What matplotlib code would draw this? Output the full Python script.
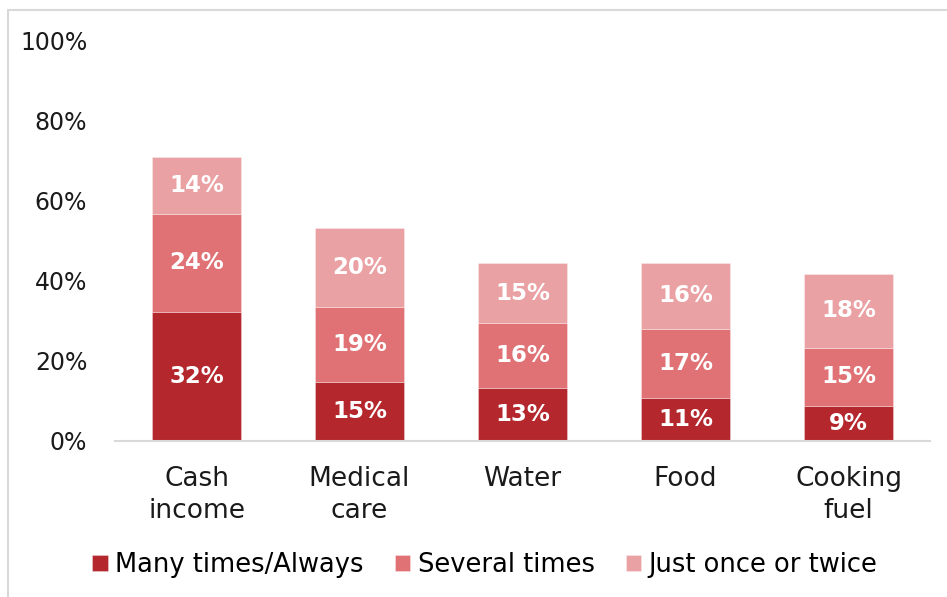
import matplotlib
matplotlib.use("Agg")
import matplotlib.pyplot as plt
from matplotlib.patches import Rectangle
import numpy as np

categories = ["Cash\nincome", "Medical\ncare", "Water", "Food", "Cooking\nfuel"]
many_times = [32.2, 14.6, 13.2, 10.6, 8.7]
several_times = [24.4, 18.7, 16.2, 17.4, 14.6]
once_twice = [14.3, 19.9, 15.0, 16.4, 18.3]
series_names = ["Many times/Always", "Several times", "Just once or twice"]
colors = ["#B3272D", "#E07275", "#EAA1A4"]
yticks = [0, 20, 40, 60, 80, 100]

plt.rcParams['font.family'] = ['DejaVu Sans']

fig = plt.figure(figsize=(9.47, 5.97), dpi=100)
ax = fig.add_axes([115/947, 1-441/597, (930-115)/947, (441-40)/597])

x = np.arange(len(categories))
bottom = np.zeros(len(categories))
for vals, name, col in zip([many_times, several_times, once_twice], series_names, colors):
    vals = np.array(vals)
    ax.bar(x, vals, 0.55, bottom=bottom, color=col, label=name,
           edgecolor=(1, 1, 1, 0.35), linewidth=0.6)
    for xi, b, v in zip(x, bottom, vals):
        ax.text(xi, b + v/2, f"{round(v):d}%", ha="center", va="center",
                color="white", fontsize=16.5, fontweight="bold")
    bottom += vals

ax.set_xlim(-0.5, len(categories) - 0.5)
ax.set_ylim(0, 100)
ax.set_yticks(yticks)
ax.set_yticklabels([f"{t}%" for t in yticks], fontsize=17, color="#1a1a1a")
ax.set_xticks(x)
ax.set_xticklabels(categories, fontsize=19, color="#1a1a1a", linespacing=1.3)
ax.tick_params(axis="both", length=0)
ax.tick_params(axis="y", pad=20)
ax.tick_params(axis="x", pad=18)
for s in ["top", "right", "left"]:
    ax.spines[s].set_visible(False)
ax.spines["bottom"].set_color("#D9D9D9")
ax.spines["bottom"].set_linewidth(1.5)

fig.legend(loc="center", bbox_to_anchor=(485/947, 1-565/597), ncol=3, frameon=False,
           fontsize=18.5, handlelength=0.6, handleheight=0.6, handletextpad=0.3,
           columnspacing=1.2)

fig.patches.append(Rectangle((8/947, -0.1), 1.2, 1 - 10/597 + 0.1,
                             transform=fig.transFigure, fill=False,
                             edgecolor="#D9D9D9", linewidth=1.5))

fig.savefig("out.png", dpi=100)
